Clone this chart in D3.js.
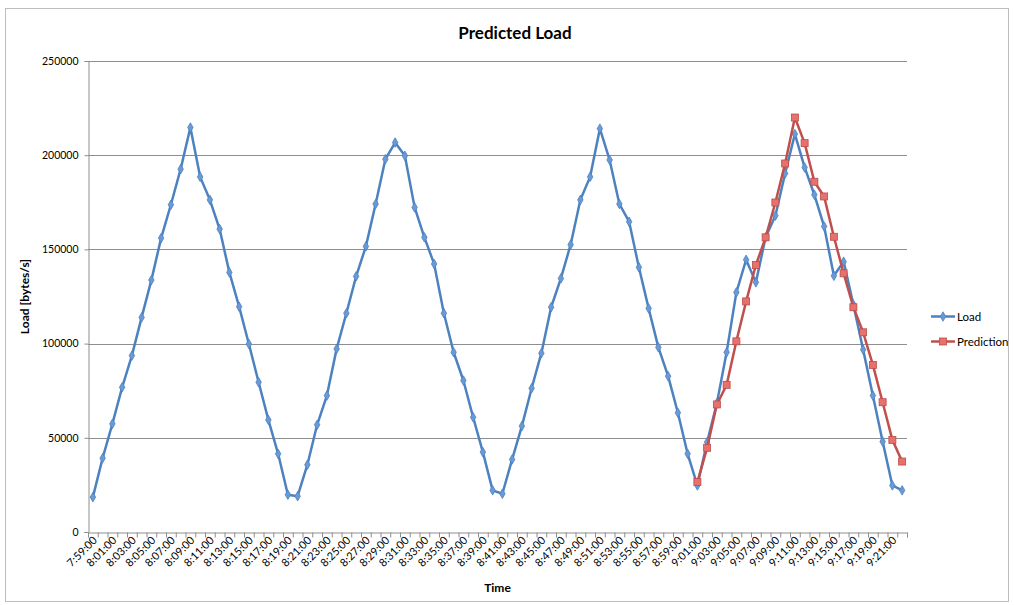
<!DOCTYPE html>
<html>
<head>
<meta charset="utf-8">
<script src="https://cdn.jsdelivr.net/npm/d3@7"></script>
<style>
  html, body { margin: 0; padding: 0; background: #fff; }
  svg { display: block; font-family: Lato, "Open Sans", sans-serif; }
</style>
</head>
<body>
<svg id="chart" width="1014" height="605"></svg>
<script>
const categories = [
  "7:59:00","8:00:00","8:01:00","8:02:00","8:03:00","8:04:00","8:05:00","8:06:00","8:07:00","8:08:00",
  "8:09:00","8:10:00","8:11:00","8:12:00","8:13:00","8:14:00","8:15:00","8:16:00","8:17:00","8:18:00",
  "8:19:00","8:20:00","8:21:00","8:22:00","8:23:00","8:24:00","8:25:00","8:26:00","8:27:00","8:28:00",
  "8:29:00","8:30:00","8:31:00","8:32:00","8:33:00","8:34:00","8:35:00","8:36:00","8:37:00","8:38:00",
  "8:39:00","8:40:00","8:41:00","8:42:00","8:43:00","8:44:00","8:45:00","8:46:00","8:47:00","8:48:00",
  "8:49:00","8:50:00","8:51:00","8:52:00","8:53:00","8:54:00","8:55:00","8:56:00","8:57:00","8:58:00",
  "8:59:00","9:00:00","9:01:00","9:02:00","9:03:00","9:04:00","9:05:00","9:06:00","9:07:00","9:08:00",
  "9:09:00","9:10:00","9:11:00","9:12:00","9:13:00","9:14:00","9:15:00","9:16:00","9:17:00","9:18:00",
  "9:19:00","9:20:00","9:21:00","9:22:00"
];
const loadValues = [
  18500, 39200, 57400, 76800, 93600, 113900, 133700, 156000, 173700, 192600,
  214700, 188500, 176300, 160800, 137800, 119600, 99800, 79500, 59500, 41500,
  19800, 19000, 35700, 56900, 72400, 97200, 116100, 135700, 151600, 174100,
  197900, 206700, 199700, 172300, 156400, 142300, 116100, 95400, 80400, 60900,
  42400, 22100, 20300, 38500, 56200, 76300, 94900, 119300, 134600, 152500,
  176300, 188500, 214100, 197500, 174100, 164700, 140500, 118700, 98000, 82700,
  63300, 41500, 24700, 47700, 68400, 95400, 127200, 144500, 132500, 156400,
  167900, 190300, 211200, 193500, 179000, 162200, 136000, 143500, 120700, 96800,
  72400, 48000, 24700, 22100
];
const predictionStart = "9:01:00";
const predictionValues = [
  26500, 44700, 67700, 78100, 101200, 122400, 141700, 156400, 174900, 195600,
  220000, 206400, 185900, 178100, 156700, 137300, 119300, 106000, 88700, 68900,
  48900, 37400
];
const yTicks = [0, 50000, 100000, 150000, 200000, 250000];
const seriesNames = ["Load", "Prediction"];

const svg = d3.select("#chart");
const L = 88, R = 907, T = 61, B = 532;

// outer border
svg.append("rect").attr("x", 5.5).attr("y", 8.5).attr("width", 1003).attr("height", 593)
  .attr("fill", "none").attr("stroke", "#bdbdbd").attr("stroke-width", 1);

const x = d3.scaleBand().domain(categories).range([L, R]).padding(0);
const xEdge = d3.scaleLinear().domain([0, categories.length]).range([L, R]);
const y = d3.scaleLinear().domain([0, 250000]).range([B, T]);
const cx = d => x(d) + x.bandwidth() / 2;

// gridlines
svg.append("g").selectAll("line").data(yTicks.filter(v => v > 0)).join("line")
  .attr("x1", L).attr("x2", R)
  .attr("y1", d => Math.round(y(d)) + 0.5).attr("y2", d => Math.round(y(d)) + 0.5)
  .attr("stroke", "#8e8e8e").attr("stroke-width", 1);

// y axis
const yAxis = svg.append("g").attr("transform", `translate(${L + 0.5},0)`)
  .call(d3.axisLeft(y).tickValues(yTicks).tickSize(4).tickPadding(6).tickFormat(d3.format("d")));
yAxis.select(".domain").attr("stroke", "#8e8e8e");
yAxis.selectAll(".tick line").attr("stroke", "#8e8e8e");
yAxis.selectAll("text").attr("font-size", 10.5).attr("fill", "#000").style("font-family", "Lato, sans-serif");

// x axis ticks at boundaries
const xAxisTicks = svg.append("g").attr("transform", `translate(0,${B + 0.5})`)
  .call(d3.axisBottom(xEdge).tickValues(d3.range(categories.length + 1)).tickSize(5).tickFormat(""));
xAxisTicks.select(".domain").attr("stroke", "#8e8e8e");
xAxisTicks.selectAll(".tick line").attr("stroke", "#8e8e8e");

// x labels
const labelCats = categories.filter((c, i) => i % 2 === 0);
svg.append("g").selectAll("text").data(labelCats).join("text")
  .attr("transform", d => `translate(${cx(d) + 5},${B + 9}) rotate(-45)`)
  .attr("text-anchor", "end")
  .attr("font-size", 11)
  .attr("fill", "#000")
  .text(d => d);

// lines
const loadData = categories.map((c, i) => ({ c, v: loadValues[i] }));
const pStart = categories.indexOf(predictionStart);
const predData = predictionValues.map((v, i) => ({ c: categories[pStart + i], v }));

const line = d3.line().x(d => cx(d.c)).y(d => y(d.v));

svg.append("path").datum(loadData).attr("d", line)
  .attr("fill", "none").attr("stroke", "#4d82c0").attr("stroke-width", 2.5)
  .attr("stroke-linejoin", "round");
svg.append("g").selectAll("path").data(loadData).join("path")
  .attr("d", d3.symbol(d3.symbolDiamond, 26))
  .attr("transform", d => `translate(${cx(d.c)},${y(d.v)})`)
  .attr("fill", "#6a9ad6").attr("stroke", "#4d82c0").attr("stroke-width", 0.8);

svg.append("path").datum(predData).attr("d", line)
  .attr("fill", "none").attr("stroke", "#c0504d").attr("stroke-width", 2.5)
  .attr("stroke-linejoin", "round");
svg.append("g").selectAll("rect").data(predData).join("rect")
  .attr("x", d => cx(d.c) - 3.5).attr("y", d => y(d.v) - 3.5)
  .attr("width", 7).attr("height", 7)
  .attr("fill", "#e6716d").attr("stroke", "#be4b48").attr("stroke-width", 0.8);

// title
svg.append("text").attr("x", 515).attr("y", 39).attr("text-anchor", "middle")
  .attr("font-size", 17).attr("font-weight", "bold").attr("fill", "#000").text("Predicted Load");

// axis titles
svg.append("text").attr("x", (L + R) / 2).attr("y", 592).attr("text-anchor", "middle")
  .attr("font-size", 12).attr("font-weight", "bold").attr("fill", "#000").text("Time");
svg.append("text").attr("transform", `translate(29,${(T + B) / 2}) rotate(-90)`)
  .attr("text-anchor", "middle")
  .attr("font-size", 12).attr("font-weight", "bold").attr("fill", "#000").text("Load [bytes/s]");

// legend
const legend = svg.append("g");
const ly = [316.5, 341.5];
seriesNames.forEach((name, i) => {
  const g = legend.append("g");
  const col = i === 0 ? "#4d82c0" : "#c0504d";
  g.append("line").attr("x1", 931).attr("x2", 955).attr("y1", ly[i]).attr("y2", ly[i])
    .attr("stroke", col).attr("stroke-width", 2.5);
  if (i === 0) {
    g.append("path").attr("d", d3.symbol(d3.symbolDiamond, 26))
      .attr("transform", `translate(943,${ly[i]})`)
      .attr("fill", "#6a9ad6").attr("stroke", "#4d82c0").attr("stroke-width", 0.8);
  } else {
    g.append("rect").attr("x", 939.5).attr("y", ly[i] - 3.5).attr("width", 7).attr("height", 7)
      .attr("fill", "#e6716d").attr("stroke", "#be4b48").attr("stroke-width", 0.8);
  }
  g.append("text").attr("x", 957).attr("y", ly[i]).attr("dy", "0.35em")
    .attr("font-size", 11.5).attr("fill", "#000").text(name);
});
</script>
</body>
</html>
